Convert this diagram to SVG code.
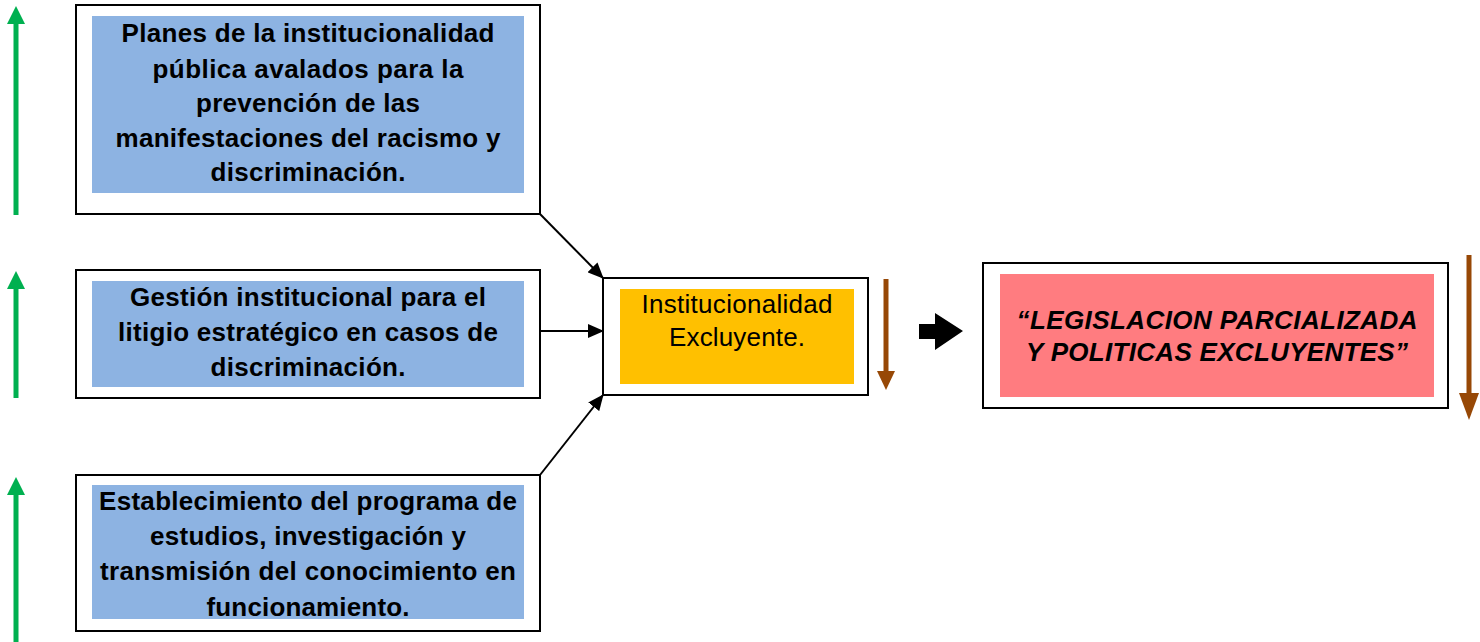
<svg xmlns="http://www.w3.org/2000/svg" width="1480" height="642" viewBox="0 0 1480 642">
<style>
.outer{fill:#fff;stroke:#000;stroke-width:2}
.blue{fill:#8DB3E2}
.bt{font-family:"Liberation Sans",Arial,sans-serif;font-weight:bold;font-size:26px;text-anchor:middle;fill:#000}
.rt{font-family:"Liberation Sans",Arial,sans-serif;font-size:26px;text-anchor:middle;fill:#000}
.pt{font-family:"Liberation Sans",Arial,sans-serif;font-weight:bold;font-style:italic;font-size:26px;text-anchor:middle;fill:#000}
.con{stroke:#000;stroke-width:2;fill:none;marker-end:url(#ah)}
.green{stroke:#00B050;stroke-width:5}
.brown{stroke:#974806;stroke-width:5}
</style>
<defs>
<marker id="ah" markerWidth="16" markerHeight="14" refX="15" refY="7" orient="auto" markerUnits="userSpaceOnUse" viewBox="0 0 16 14">
<path d="M0,0 L16,7 L0,14 Z" fill="#000"/>
</marker>
</defs>
<g id="side-arrows">
<line class="green" x1="16" y1="215" x2="16" y2="22"/>
<polygon points="16,6 7,24 25,24" fill="#00B050"/>
<line class="green" x1="16" y1="398" x2="16" y2="288"/>
<polygon points="16,271 7,289 25,289" fill="#00B050"/>
<line class="green" x1="16" y1="642" x2="16" y2="494"/>
<polygon points="16,477 7,495 25,495" fill="#00B050"/>
<line class="brown" x1="886" y1="279" x2="886" y2="374"/>
<polygon points="877,371 895,371 886,390" fill="#974806"/>
<line class="brown" x1="1469" y1="255" x2="1469" y2="398"/>
<polygon points="1459,393 1479,393 1469,420" fill="#974806"/>
<polygon points="919,324 935,324 935,313 963,331 935,350 935,339 919,339" fill="#000"/>
</g>
<g id="node1">
<rect class="outer" x="76" y="5" width="464" height="209"/>
<rect class="blue" x="92" y="16" width="432" height="177"/>
<text class="bt" x="308" y="42" textLength="373">Planes de la institucionalidad</text>
<text class="bt" x="308" y="78" textLength="311">pública avalados para la</text>
<text class="bt" x="308" y="112" textLength="224">prevención de las</text>
<text class="bt" x="308" y="147" textLength="385">manifestaciones del racismo y</text>
<text class="bt" x="308" y="181" textLength="195">discriminación.</text>
</g>
<g id="node2">
<rect class="outer" x="76" y="270" width="464" height="128"/>
<rect class="blue" x="92" y="281" width="432" height="106"/>
<text class="bt" x="308" y="306" textLength="356">Gestión institucional para el</text>
<text class="bt" x="308" y="341" textLength="380">litigio estratégico en casos de</text>
<text class="bt" x="308" y="376" textLength="195">discriminación.</text>
</g>
<g id="node3">
<rect class="outer" x="76" y="475" width="464" height="156"/>
<rect class="blue" x="92" y="485" width="432" height="134"/>
<text class="bt" x="308" y="510" textLength="418">Establecimiento del programa de</text>
<text class="bt" x="308" y="545" textLength="316">estudios, investigación y</text>
<text class="bt" x="308" y="580" textLength="416">transmisión del conocimiento en</text>
<text class="bt" x="308" y="616" textLength="203">funcionamiento.</text>
</g>
<g id="node4">
<rect class="outer" x="603" y="278" width="265" height="117"/>
<rect x="620" y="289" width="234" height="95" fill="#FFC000"/>
<text class="rt" x="737" y="313" textLength="191">Institucionalidad</text>
<text class="rt" x="737" y="346" textLength="136">Excluyente.</text>
</g>
<g id="node5">
<rect class="outer" x="983" y="263" width="465" height="145"/>
<rect x="1000" y="274" width="434" height="123" fill="#FF7C80"/>
<text class="pt" x="1217" y="329" textLength="401">“LEGISLACION PARCIALIZADA</text>
<text class="pt" x="1217" y="361" textLength="382">Y POLITICAS EXCLUYENTES”</text>
</g>
<g id="connectors">
<line class="con" x1="540" y1="214" x2="603" y2="278"/>
<line class="con" x1="540" y1="331" x2="603" y2="331"/>
<line class="con" x1="540" y1="475" x2="603" y2="395"/>
</g>
</svg>
